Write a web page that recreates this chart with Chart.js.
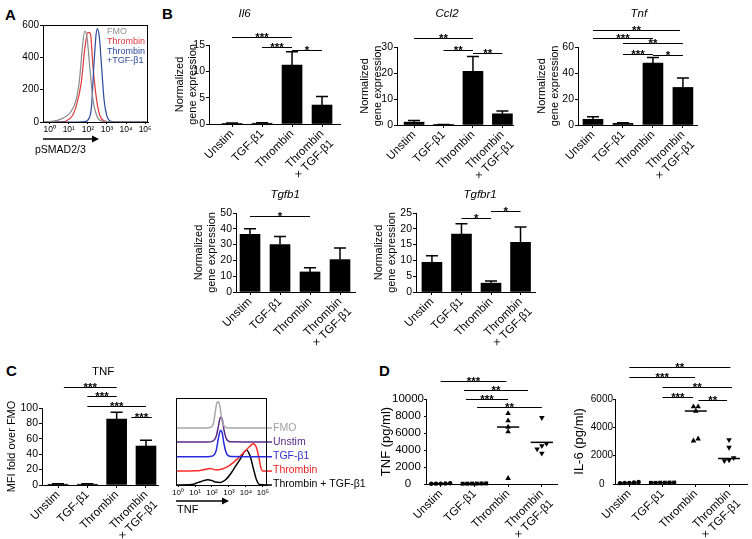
<!DOCTYPE html>
<html><head><meta charset="utf-8">
<script src="https://cdn.jsdelivr.net/npm/chart.js@4.4.0/dist/chart.umd.min.js"></script>
<style>
html,body{margin:0;padding:0;background:#fff;}
#wrap{position:relative;width:752px;height:539px;overflow:hidden;background:#fff;font-family:"Liberation Sans",Arial,sans-serif;}
#wrap canvas{position:absolute;}
.lbl{position:absolute;font-weight:bold;font-size:15px;line-height:15px;color:#000;}
</style></head><body>
<div id="wrap">
<div class="lbl" style="left:5px;top:7px">A</div>
<div class="lbl" style="left:162px;top:6px">B</div>
<div class="lbl" style="left:6px;top:363px">C</div>
<div class="lbl" style="left:379px;top:363px">D</div>
</div>
<script>
// ---------------- data ----------------
const categories = ['Unstim', 'TGF-β1', 'Thrombin', ['Thrombin', '× TGF-β1']];
const histTicks = ['10⁰', '10¹', '10²', '10³', '10⁴', '10⁵'];

// Panel B (mean, upper SEM)
const il6Mean = [0.12, 0.15, 11.2, 3.6];
const il6Err = [0.08, 0.08, 2.5, 1.6];
const ccl2Mean = [1.1, 0.1, 20.6, 4.3];
const ccl2Err = [0.6, 0.1, 5.7, 1.1];
const tnfMean = [4.4, 1.3, 47.7, 28.9];
const tnfErr = [2.0, 0.5, 4.2, 7.3];
const tgfb1Mean = [36.5, 30.0, 12.7, 20.5];
const tgfb1Err = [3.6, 5.2, 2.7, 7.4];
const tgfbr1Mean = [9.4, 18.3, 2.8, 15.7];
const tgfbr1Err = [2.1, 3.3, 0.7, 4.9];
// Panel C bars
const mfiMean = [1.0, 1.0, 85.7, 50.6];
const mfiErr = [0.5, 0.5, 8.7, 7.4];

// significance annotations: [from, to, stars, level]
const il6Sig = [[0, 2, '***', 16.5], [1, 2, '***', 14.6], [2, 3, '*', 14.05]];
const ccl2Sig = [[0, 2, '**', 33.3], [1, 2, '**', 29.0], [2, 3, '**', 27.85]];
const tnfSig = [[0, 2.9, '**', 73.3], [0, 2, '***', 66.9], [1, 3, '**', 63.1], [1, 2, '***', 54.9], [2, 3, '*', 54.2]];
const tgfb1Sig = [[0, 2, '*', 47.9]];
const tgfbr1Sig = [[1, 2, '*', 23.55], [2, 3, '*', 25.6]];
const mfiSig = [[0.2, 2, '***', 126.9], [1, 2, '***', 116], [1, 3, '***', 102.6], [2.5, 3.2, '***', 88.7]];
const dTnfSig = [[0, 1.95, '***', 12118], [0.69, 2.59, '**', 11059], [0.75, 2.0, '***', 10035], [1.08, 3.0, '**', 9024]];
const dIl6Sig = [[0, 3.04, '**', 8272], [0, 1.98, '***', 7526], [1, 3.09, '**', 6823], [1, 1.92, '***', 6120], [2.08, 2.94, '**', 5930]];

// Panel A histograms [log10 intensity, count]
const aFMO = [[-0.35,0],[0,3],[0.4,10],[0.75,28],[1.1,62],[1.38,135],[1.56,260],[1.7,445],[1.83,560],[1.95,528],[2.1,340],[2.27,135],[2.46,40],[2.63,10],[3.0,2],[3.5,0],[5.15,0]];
const aThrombin = [[-0.35,0],[0.5,0],[0.84,5],[1.2,40],[1.38,95],[1.65,240],[1.83,445],[2.0,555],[2.13,548],[2.27,340],[2.46,135],[2.63,40],[2.9,6],[3.3,0],[5.15,0]];
const aThrTgf = [[-0.35,0],[1.5,0],[1.85,3],[2.0,12],[2.19,95],[2.31,340],[2.42,528],[2.49,578],[2.6,528],[2.72,340],[2.85,135],[2.99,40],[3.17,6],[3.5,0],[5.15,0]];

// Panel C offset histograms [log10 intensity, offset %]
const cFMO = [[-0.12,65.5],[1.6,65.5],[1.95,66.5],[2.1,72],[2.2,85],[2.3,95],[2.4,95.5],[2.5,86],[2.6,73],[2.75,67],[3.0,65.5],[5.24,65.5]];
const cUnstim = [[-0.12,49.4],[1.7,49.4],[2.05,50.5],[2.25,56],[2.38,68],[2.5,78],[2.6,76],[2.7,64],[2.85,53],[3.1,49.6],[5.24,49.4]];
const cTgf = [[-0.12,32.5],[1.7,32.5],[2.05,33.5],[2.25,40],[2.38,54],[2.5,63],[2.6,60],[2.7,48],[2.85,36.5],[3.1,32.7],[5.24,32.5]];
const cThrombin = [[-0.12,16],[1.0,16.3],[1.5,17.5],[1.9,19],[2.2,17.5],[2.6,18.5],[3.0,22],[3.5,30],[3.9,38],[4.2,44],[4.43,47.5],[4.6,44],[4.75,33],[4.88,20],[5.0,16],[5.24,16]];
const cThrTgf = [[-0.12,0],[0.8,0.5],[1.2,3],[1.5,5],[1.75,6],[2.0,5],[2.2,3.5],[2.5,3],[2.8,6],[3.1,13],[3.4,22],[3.7,31],[3.9,38],[4.05,40],[4.25,33],[4.45,18],[4.62,6],[4.8,0.5],[5.24,0]];

// Panel D individual values (pg/ml) and centre lines
const tnfUnstim = [60, 40, 80, 50, 30];
const tnfTgf = [60, 50, 40, 70, 50, 30];
const tnfThr = [8300, 7450, 6700, 6150, 670];
const tnfThrTgf = [7800, 4750, 4500, 4100, 3600];
const tnfMed = [50, 50, 6700, 4900];
const il6Unstim = [150, 110, 80, 70, 60];
const il6Tgf = [100, 90, 80, 90, 80, 100];
const il6Thr = [5460, 5150, 5460, 3050, 3190];
const il6ThrTgf = [3120, 2580, 1850, 1640, 1690];
const il6Med = [90, 90, 5150, 1800];

// ---------------- drawing ----------------
const FONT = '"Liberation Sans", Arial, sans-serif';
Chart.defaults.font.family = FONT;
Chart.defaults.color = '#000';
Chart.defaults.animation = false;
const wrap = document.getElementById('wrap');

function extras(spec) {
  return {
    id: 'extras',
    afterDatasetsDraw(chart) {
      const ctx = chart.ctx, xs = chart.scales.x, ys = chart.scales.y, ca = chart.chartArea;
      const ox = spec.ox, oy = spec.oy;
      ctx.save();
      ctx.strokeStyle = '#000'; ctx.fillStyle = '#000';
      if (spec.frame) {
        ctx.lineWidth = 1;
        ctx.strokeRect(Math.round(ca.left) + 0.5, Math.round(ca.top) + 0.5, Math.round(ca.right - ca.left) - 1, Math.round(ca.bottom - ca.top));
      }
      if (spec.ext) {
        chart.data.datasets.forEach(ds => {
          const last = ds.data[ds.data.length - 1];
          const y = ys.getPixelForValue(last[1]);
          ctx.strokeStyle = ds.borderColor; ctx.lineWidth = ds.borderWidth;
          ctx.beginPath(); ctx.moveTo(ca.right, y); ctx.lineTo(ca.right + spec.ext, y); ctx.stroke();
        });
      }
      if (spec.errors) {
        const {mean, err} = spec.errors;
        ctx.strokeStyle = '#000'; ctx.lineWidth = 1.5;
        mean.forEach((m, i) => {
          const x = xs.getPixelForValue(i);
          const yb = ys.getPixelForValue(m), yt = ys.getPixelForValue(m + err[i]);
          ctx.beginPath();
          ctx.moveTo(x, yb); ctx.lineTo(x, yt);
          ctx.moveTo(x - 6, yt); ctx.lineTo(x + 6, yt);
          ctx.stroke();
        });
      }
      if (spec.medians) {
        ctx.strokeStyle = '#000'; ctx.lineWidth = 1.5;
        spec.medians.forEach((m, i) => {
          const y = ys.getPixelForValue(m);
          ctx.beginPath();
          ctx.moveTo(xs.getPixelForValue(i - 0.33), y); ctx.lineTo(xs.getPixelForValue(i + 0.33), y);
          ctx.stroke();
        });
      }
      if (spec.brackets) {
        ctx.strokeStyle = '#000'; ctx.fillStyle = '#000'; ctx.lineWidth = 1;
        ctx.font = 'bold 11.5px ' + FONT; ctx.textAlign = 'center'; ctx.textBaseline = 'alphabetic';
        spec.brackets.forEach(([a, b, s, lv]) => {
          const xa = xs.getPixelForValue(a), xb = xs.getPixelForValue(b);
          const y = Math.round(ys.getPixelForValue(lv)) + 0.5;
          ctx.beginPath(); ctx.moveTo(xa, y); ctx.lineTo(xb, y); ctx.stroke();
          ctx.fillText(s, (xa + xb) / 2, y + 3.5);
        });
      }
      if (spec.title) {
        const t = spec.title;
        ctx.fillStyle = '#000';
        ctx.font = (t.italic ? 'italic ' : '') + '11.5px ' + FONT;
        ctx.textAlign = 'center'; ctx.textBaseline = 'middle';
        ctx.fillText(t.text, xs.getPixelForValue(t.x), t.y - oy);
      }
      if (spec.texts) {
        spec.texts.forEach(t => {
          ctx.font = t.font + ' ' + FONT; ctx.fillStyle = t.color || '#000';
          ctx.textAlign = 'left'; ctx.textBaseline = 'middle';
          ctx.fillText(t.text, t.x - ox, t.y - oy);
        });
      }
      if (spec.arrow) {
        const a = spec.arrow, y = a.y - oy, x1 = a.x1 - ox, x2 = a.x2 - ox;
        ctx.strokeStyle = '#000'; ctx.fillStyle = '#000'; ctx.lineWidth = 1.5;
        ctx.beginPath(); ctx.moveTo(x1, y); ctx.lineTo(x2 - 5, y); ctx.stroke();
        ctx.beginPath(); ctx.moveTo(x2, y); ctx.lineTo(x2 - 7, y - 3.5); ctx.lineTo(x2 - 7, y + 3.5); ctx.closePath(); ctx.fill();
      }
      ctx.restore();
    }
  };
}

function makeChart(rect, pad, cfg, spec) {
  const [x0, y0, x1, y1] = rect, {L, T, R, B} = pad;
  const w = Math.round(x1 - x0 + L + R), h = Math.round(y1 - y0 + T + B);
  const cv = document.createElement('canvas');
  cv.width = w; cv.height = h;
  Object.assign(cv.style, {left: (x0 - L) + 'px', top: (y0 - T) + 'px', width: w + 'px', height: h + 'px'});
  wrap.appendChild(cv);
  spec.ox = x0 - L; spec.oy = y0 - T;
  const o = cfg.options;
  o.responsive = false; o.maintainAspectRatio = false; o.animation = false; o.devicePixelRatio = 1;
  o.layout = {padding: {left: 0, top: T, right: R, bottom: 0}, autoPadding: false};
  o.plugins = {legend: {display: false}, tooltip: {enabled: false}};
  o.events = [];
  o.scales.x.afterFit = s => { s.height = B; };
  o.scales.y.afterFit = s => { s.width = L; };
  cfg.plugins = [extras(spec)];
  return new Chart(cv, cfg);
}

function catAxis(xr, labels, fs) {
  return {
    type: 'linear', min: xr[0], max: xr[1], offset: false,
    afterBuildTicks: s => { s.ticks = labels.map((_, i) => ({value: i})); },
    ticks: {autoSkip: false, minRotation: 45, maxRotation: 45, padding: 0, font: {size: fs || 11.5}, color: '#000', callback: v => labels[v]},
    grid: {display: true, drawOnChartArea: false, drawTicks: true, tickLength: 3, offset: false, color: '#000'},
    border: {display: true, color: '#000', width: 1}
  };
}

function valAxis(max, step, title, o) {
  o = o || {};
  return {
    type: 'linear', min: 0, max: max,
    afterBuildTicks: s => { const t = []; for (let v = 0; v <= max + 1e-9; v += step) t.push({value: v}); s.ticks = t; },
    ticks: {autoSkip: false, font: {size: o.tick || 11}, color: '#000', padding: (o.tp !== undefined ? o.tp : 1), crossAlign: o.cross || 'near', callback: v => String(v)},
    grid: {display: true, drawOnChartArea: false, drawTicks: true, tickLength: o.tl || 3, color: '#000'},
    border: {display: true, color: '#000', width: 1},
    title: {display: !!title, text: title, font: {size: o.tf || 11}, color: '#000', padding: {top: 2, bottom: 0}}
  };
}

function barPanel(rect, pad, mean, err, sig, yMax, yStep, xr, title, yTitle, tickFont) {
  return makeChart(rect, pad, {
    type: 'bar',
    data: {datasets: [{data: mean.map((v, i) => ({x: i, y: v})), backgroundColor: '#000', barThickness: 20, borderWidth: 0}]},
    options: {scales: {x: catAxis(xr, categories), y: valAxis(yMax, yStep, yTitle, {tick: tickFont || 11, tf: 11})}}
  }, {errors: {mean, err}, brackets: sig, title});
}

const NG = ['Normalized', 'gene expression'];
// Panel B
barPanel([209, 45, 340, 124], {L: 38, T: 45, R: 10, B: 60}, il6Mean, il6Err, il6Sig, 15, 5, [-0.77, 3.6], {text: 'Il6', italic: true, x: 0.42, y: 14}, NG, 10.5);
barPanel([397, 47, 513, 125], {L: 41, T: 47, R: 10, B: 60}, ccl2Mean, ccl2Err, ccl2Sig, 30, 10, [-0.58, 3.36], {text: 'Ccl2', italic: true, x: 1.12, y: 14}, NG, 10.5);
barPanel([578, 47, 697, 125], {L: 45, T: 47, R: 10, B: 60}, tnfMean, tnfErr, tnfSig, 60, 20, [-0.5, 3.47], {text: 'Tnf', italic: true, x: 1.53, y: 14}, NG, 10.5);
barPanel([236, 213, 355, 292], {L: 46, T: 25, R: 10, B: 60}, tgfb1Mean, tgfb1Err, tgfb1Sig, 50, 10, [-0.467, 3.5], {text: 'Tgfb1', italic: true, x: 1.17, y: 195}, NG, 10.5);
barPanel([416, 213, 535, 292], {L: 46, T: 25, R: 10, B: 60}, tgfbr1Mean, tgfbr1Err, tgfbr1Sig, 25, 5, [-0.54, 3.49], {text: 'Tgfbr1', italic: true, x: 1.63, y: 195}, NG, 10.5);
// Panel C bars
barPanel([42, 408, 158, 485], {L: 39, T: 45, R: 10, B: 60}, mfiMean, mfiErr, mfiSig, 100, 20, [-0.546, 3.41], {text: 'TNF', italic: false, x: 1.54, y: 372}, 'MFI fold over FMO', 10.5);

function histX(min, max, fs) {
  return {
    type: 'linear', min: min, max: max,
    afterBuildTicks: s => { s.ticks = histTicks.map((_, i) => ({value: i})); },
    ticks: {autoSkip: false, maxRotation: 0, minRotation: 0, padding: 1, font: {size: fs}, color: '#000', callback: v => histTicks[v]},
    grid: {display: true, drawOnChartArea: false, drawTicks: true, tickLength: 2, color: '#000'},
    border: {display: true, color: '#000', width: 1}
  };
}
function hline(data, color, w) {
  return {data: data, borderColor: color, borderWidth: w, pointRadius: 0, fill: false, cubicInterpolationMode: 'monotone', clip: 3};
}

// Panel A
makeChart([43, 25, 148, 122], {L: 43, T: 25, R: 5, B: 36}, {
  type: 'line',
  data: {datasets: [hline(aFMO, '#8a8a8a', 1.2), hline(aThrTgf, '#2b4a9e', 1.2), hline(aThrombin, '#e0363a', 1.2)]},
  options: {scales: {x: histX(-0.35, 5.15, 8.5), y: valAxis(600, 200, '', {tick: 10, tl: 3, tp: 1})}}
}, {
  frame: true,
  texts: [
    {text: 'FMO', x: 107, y: 31.5, color: '#8f8f8f', font: '9px'},
    {text: 'Thrombin', x: 107, y: 41.5, color: '#e0363a', font: '9px'},
    {text: 'Thrombin', x: 107, y: 51.5, color: '#2b4a9e', font: '9px'},
    {text: '+TGF-β1', x: 107, y: 60.5, color: '#2b4a9e', font: '9px'},
    {text: 'pSMAD2/3', x: 35, y: 150, color: '#000', font: '10.5px'}
  ],
  arrow: {x1: 43, x2: 99, y: 139}
});

// Panel C histograms
makeChart([176, 398, 267, 485], {L: 10, T: 5, R: 100, B: 32}, {
  type: 'line',
  data: {datasets: [hline(cFMO, '#a8a8a8', 1.5), hline(cUnstim, '#5a2b8a', 1.5), hline(cTgf, '#2a2ae0', 1.5), hline(cThrombin, '#ff2a2a', 1.5), hline(cThrTgf, '#000000', 1.5)]},
  options: {scales: {x: histX(-0.12, 5.24, 8), y: {min: 0, max: 100, ticks: {display: false}, grid: {display: false}, border: {display: false}}}}
}, {
  frame: true, ext: 5,
  texts: [
    {text: 'FMO', x: 273, y: 428.5, color: '#a0a0a0', font: '10.5px'},
    {text: 'Unstim', x: 273, y: 442.5, color: '#5a2b8a', font: '10.5px'},
    {text: 'TGF-β1', x: 273, y: 456.5, color: '#3030d0', font: '10.5px'},
    {text: 'Thrombin', x: 273, y: 470.5, color: '#ee2222', font: '10.5px'},
    {text: 'Thrombin + TGF-β1', x: 273, y: 484.5, color: '#000', font: '10.5px'},
    {text: 'TNF', x: 177, y: 510, color: '#000', font: '11px'}
  ],
  arrow: {x1: 176, x2: 229, y: 501}
});

// Panel D
function jitter(vals, thr, step) {
  const idx = vals.map((v, i) => i).sort((a, b) => vals[a] - vals[b]);
  const off = new Array(vals.length).fill(0);
  let cluster = [idx[0]];
  const flush = () => cluster.forEach((k, j) => { off[k] = (j - (cluster.length - 1) / 2) * step; });
  for (let j = 1; j < idx.length; j++) {
    if (vals[idx[j]] - vals[idx[j - 1]] < thr) cluster.push(idx[j]);
    else { flush(); cluster = [idx[j]]; }
  }
  flush();
  return off;
}
function pts(vals, cat, thr) {
  const off = jitter(vals, thr, 0.14);
  return vals.map((v, i) => ({x: cat + off[i], y: v}));
}
function dotSets(groups, thr) {
  const styles = [['circle', 2.2, 0], ['rect', 2.8, 0], ['triangle', 3.2, 0], ['triangle', 3.2, 180]];
  return groups.map((g, i) => ({
    data: pts(g, i, thr), pointStyle: styles[i][0], pointRadius: styles[i][1], pointRotation: styles[i][2],
    backgroundColor: '#000', borderColor: '#000', borderWidth: 0, clip: 6, showLine: false
  }));
}
makeChart([426, 399, 557, 484], {L: 49, T: 30, R: 5, B: 60}, {
  type: 'scatter',
  data: {datasets: dotSets([tnfUnstim, tnfTgf, tnfThr, tnfThrTgf], 450)},
  options: {scales: {x: catAxis([-0.436, 3.45], categories), y: valAxis(10000, 2000, 'TNF (pg/ml)', {cross: 'center', tl: 2, tp: 0, tick: 11.5, tf: 13})}}
}, {medians: tnfMed, brackets: dTnfSig});

makeChart([615, 399, 747, 484], {L: 45, T: 40, R: 4, B: 60}, {
  type: 'scatter',
  data: {datasets: dotSets([il6Unstim, il6Tgf, il6Thr, il6ThrTgf], 260)},
  options: {scales: {x: catAxis([-0.43, 3.54], categories), y: valAxis(6000, 2000, 'IL-6 (pg/ml)', {cross: 'center', tl: 2, tp: 0, tick: 10, tf: 13})}}
}, {medians: il6Med, brackets: dIl6Sig});
</script>
</body></html>
